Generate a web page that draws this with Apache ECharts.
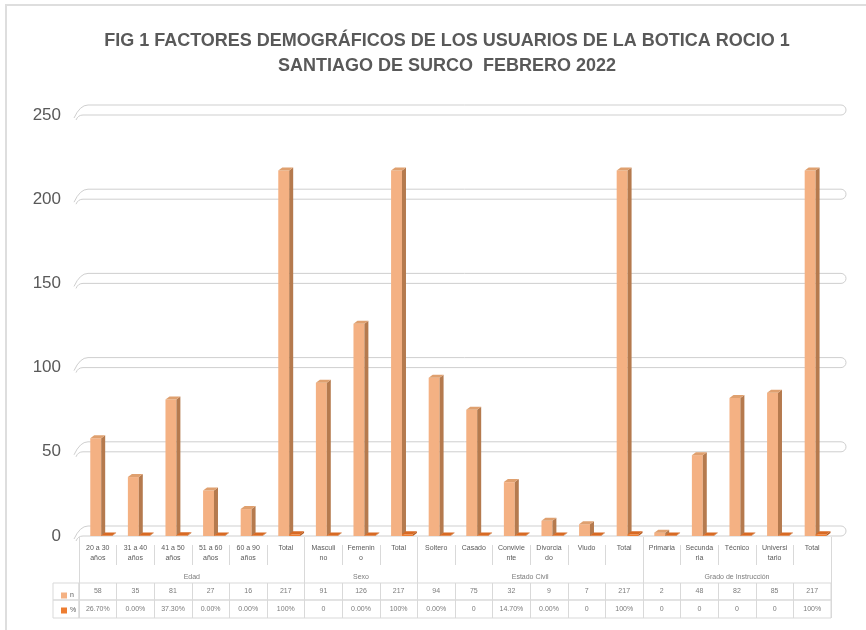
<!DOCTYPE html>
<html lang="es">
<head>
  <meta charset="UTF-8">
  <title>Factores demográficos</title>
  <style>
    html, body { margin: 0; padding: 0; background: #fff; }
    #chart { width: 866px; height: 630px; }
  </style>
  <script src="https://cdn.jsdelivr.net/npm/echarts@6.0.0/dist/echarts.min.js"></script>
</head>
<body>
  <div id="chart"></div>
  <script>
    // datos de la figura
    const categories = ['20 a 30\naños', '31 a 40\naños', '41 a 50\naños', '51 a 60\naños', '60 a 90\naños', 'Total',
      'Masculi\nno', 'Femenin\no', 'Total',
      'Soltero', 'Casado', 'Convivie\nnte', 'Divorcia\ndo', 'Viudo', 'Total',
      'Primaria', 'Secunda\nria', 'Técnico', 'Universi\ntario', 'Total'];
    const nValues = [58, 35, 81, 27, 16, 217, 91, 126, 217, 94, 75, 32, 9, 7, 217, 2, 48, 82, 85, 217];
    const pctValues = [0.267, 0, 0.373, 0, 0, 1, 0, 0, 1, 0, 0, 0.147, 0, 0, 1, 0, 0, 0, 0, 1];
    const pctLabels = ['26.70%', '0.00%', '37.30%', '0.00%', '0.00%', '100%', '0', '0.00%', '100%',
      '0.00%', '0', '14.70%', '0.00%', '0', '100%', '0', '0', '0', '0', '100%'];
    const groups = ['Edad', 'Sexo', 'Estado Civil', 'Grado de Instrucción'];
    const groupSizes = [6, 3, 6, 5];
    const yTicks = [0, 50, 100, 150, 200, 250];

    const grey = '#595959';
    const border = '#d9d9d9';
    const font = "'Liberation Sans', Arial, sans-serif";

    // limites y centros de cada grupo (en unidades de categoria)
    const bounds = [0];
    groupSizes.forEach(function (s) { bounds.push(bounds[bounds.length - 1] + s); });
    const groupCenters = groups.map(function (g, i) { return [(bounds[i] + bounds[i + 1]) / 2, 0.13]; });

    function box(front, side, top, shift) {
      return function (params, api) {
        const i = api.value(0);
        const p = api.coord([i, api.value(1)]);
        const base = api.coord([i, 0]);
        const w = api.size([1, 0])[0];
        const fw = w * 0.29;
        const fx = p[0] - w * 0.2 + shift * fw;
        const dx = 4, dy = 3;
        const y = Math.min(p[1], base[1] - 0.5);
        return {
          type: 'group',
          children: [
            { type: 'rect', shape: { x: fx, y: y, width: fw, height: base[1] - y }, style: { fill: front } },
            { type: 'polygon', shape: { points: [[fx + fw, y], [fx + fw + dx, y - dy], [fx + fw + dx, base[1] - dy], [fx + fw, base[1]]] }, style: { fill: side } },
            { type: 'polygon', shape: { points: [[fx, y], [fx + dx, y - dy], [fx + fw + dx, y - dy], [fx + fw, y]] }, style: { fill: top } }
          ]
        };
      };
    }

    function tube(params, api) {
      const cs = params.coordSys;
      const y = api.coord([0, api.value(1)])[1];
      const x0 = cs.x, x1 = cs.x + cs.width + 10;
      const d = 'M ' + (x0 - 5) + ' ' + (y + 3) + ' Q ' + (x0 + 1) + ' ' + (y - 10) + ' ' + (x0 + 9) + ' ' + (y - 10) +
        ' L ' + x1 + ' ' + (y - 10) + ' A 5 5 0 0 1 ' + x1 + ' ' + y +
        ' L ' + (x0 + 4) + ' ' + y + ' Q ' + (x0 - 1) + ' ' + y + ' ' + (x0 - 3) + ' ' + (y + 5);
      return { type: 'path', shape: { pathData: d }, style: { fill: 'none', stroke: '#cfcfcf', lineWidth: 1 } };
    }

    function rowAxis(idx) {
      return {
        type: 'category', gridIndex: idx, data: categories,
        axisLabel: { show: false }, axisTick: { show: false }, axisLine: { show: false },
        splitLine: { show: true, interval: 0, lineStyle: { color: border } }
      };
    }
    function rowY(idx) {
      return { type: 'value', gridIndex: idx, min: 0, max: 1, show: false };
    }
    function textSeries(xi, data, fmt) {
      return {
        type: 'scatter', xAxisIndex: xi, yAxisIndex: xi, symbolSize: 0, silent: true, data: data,
        label: { show: true, position: 'inside', color: grey, fontSize: 7, fontFamily: font, formatter: fmt }
      };
    }

    const chart = echarts.init(document.getElementById('chart'));
    chart.setOption({
      animation: false,
      backgroundColor: '#fff',
      title: {
        text: 'FIG 1 FACTORES DEMOGRÁFICOS DE LOS USUARIOS DE LA BOTICA ROCIO 1\nSANTIAGO DE SURCO  FEBRERO 2022',
        left: 442, top: 24, textAlign: 'center',
        textStyle: { color: grey, fontSize: 18, fontWeight: 'bold', lineHeight: 25, fontFamily: "'Liberation Sans Narrow', " + font }
      },
      legend: {
        data: ['n', '%'], orient: 'vertical', left: 56, top: 587, itemGap: 8,
        itemWidth: 6, itemHeight: 6, icon: 'rect',
        textStyle: { color: grey, fontSize: 7, fontFamily: font, padding: [0, 0, 0, -2] }
      },
      graphic: [
        { type: 'rect', shape: { x: 6, y: 5, width: 900, height: 700 }, style: { fill: 'none', stroke: '#dedede', lineWidth: 2 }, z: -1 },
        { type: 'rect', shape: { x: 53, y: 583, width: 26, height: 17 }, style: { fill: 'none', stroke: border } },
        { type: 'rect', shape: { x: 53, y: 600, width: 26, height: 18 }, style: { fill: 'none', stroke: border } }
      ],
      grid: [
        { left: 79, right: 35, top: 115, height: 421 },
        { left: 79, right: 35, top: 545, height: 20 },
        { left: 79, right: 35, top: 537, height: 46 },
        { left: 79, right: 35, top: 583, height: 17, show: true, borderColor: border, borderWidth: 1 },
        { left: 79, right: 35, top: 600, height: 18, show: true, borderColor: border, borderWidth: 1 }
      ],
      xAxis: [
        {
          type: 'category', gridIndex: 0, data: categories,
          axisLine: { show: false }, axisTick: { show: false },
          axisLabel: { interval: 0, margin: 7, color: grey, fontSize: 7, lineHeight: 10, fontFamily: font, verticalAlign: 'top' }
        },
        rowAxis(1),
        { type: 'value', gridIndex: 2, min: 0, max: 20, show: false },
        rowAxis(3),
        rowAxis(4)
      ],
      yAxis: [
        {
          type: 'value', gridIndex: 0, min: 0, max: 250, interval: 50,
          axisLine: { show: false }, axisTick: { show: false }, splitLine: { show: false },
          axisLabel: { margin: 18, color: grey, fontSize: 17, fontFamily: font }
        },
        rowY(1), rowY(2), rowY(3), rowY(4)
      ],
      series: [
        {
          type: 'custom', name: 'grid', xAxisIndex: 0, yAxisIndex: 0, silent: true, clip: false, z: 1,
          data: yTicks.map(function (v) { return [0, v]; }), renderItem: tube
        },
        {
          type: 'custom', name: 'n', xAxisIndex: 0, yAxisIndex: 0, z: 3, clip: false,
          itemStyle: { color: '#F4B183' },
          data: nValues.map(function (v, i) { return [i, v]; }),
          renderItem: box('#F4B183', '#B57A4E', '#DFA06F', 0)
        },
        {
          type: 'custom', name: '%', xAxisIndex: 0, yAxisIndex: 0, z: 4, clip: false,
          itemStyle: { color: '#ED7D31' },
          data: pctValues.map(function (v, i) { return [i, v]; }),
          renderItem: box('#ED7D31', '#B55A1E', '#D86A24', 1)
        },
        Object.assign(textSeries(2, groupCenters, function (p) { return groups[p.dataIndex]; }), {
          markLine: {
            silent: true, symbol: ['none', 'none'], label: { show: false },
            lineStyle: { color: border, type: 'solid', width: 1 },
            data: bounds.map(function (b) { return { xAxis: b }; })
          }
        }),
        textSeries(3, nValues.map(function (v, i) { return [i, 0.5]; }), function (p) { return String(nValues[p.dataIndex]); }),
        textSeries(4, pctLabels.map(function (v, i) { return [i, 0.5]; }), function (p) { return pctLabels[p.dataIndex]; })
      ]
    });
  </script>
</body>
</html>
